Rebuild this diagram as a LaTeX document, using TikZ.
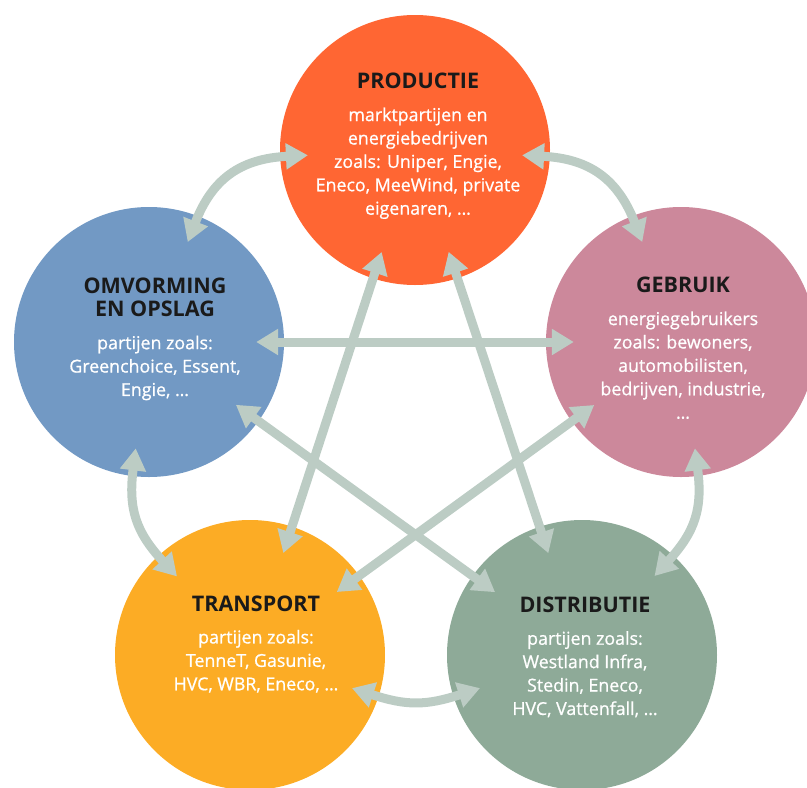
\documentclass[tikz,border=0pt]{standalone}
\usepackage{fontspec}
\setmainfont{Open Sans}
\newfontfamily\halfvet[FakeBold=0.8]{Open Sans}
\usetikzlibrary{arrows.meta}

\definecolor{prodcol}{HTML}{FF6633}
\definecolor{gebrcol}{HTML}{CC889B}
\definecolor{omvcol}{HTML}{7299C4}
\definecolor{transcol}{HTML}{FCAC25}
\definecolor{distcol}{HTML}{8EAA98}
\definecolor{pijlcol}{HTML}{BCCCC4}
\definecolor{kopcol}{HTML}{1A1A1A}

\newcommand{\kop}[1]{{\color{kopcol}\fontsize{21.5}{24}\selectfont\rmfamily\bfseries #1}}

\tikzset{
  blok/.style={circle, minimum size=270pt, inner sep=0pt},
  tekst/.style={align=center, text=white, font=\halfvet\fontsize{17.8}{23.4}\selectfont},
  conn/.style={draw=pijlcol, line width=9pt,
    {Triangle[length=22pt,width=25pt]}-{Triangle[length=22pt,width=25pt]},
    shorten <=-28pt, shorten >=-28pt},
}

\begin{document}
\begin{tikzpicture}[x=1pt, y=-1pt]
    \useasboundingbox (0,0) rectangle (807,788);

    \node[blok, fill=prodcol]  (prod)  at (415, 150) {};
    \node[blok, fill=gebrcol]  (gebr)  at (681, 342) {};
    \node[blok, fill=omvcol]   (omv)   at (149, 342) {};
    \node[blok, fill=transcol] (trans) at (250, 655) {};
    \node[blok, fill=distcol]  (dist)  at (582, 655) {};

    \path
    (omv)   edge[conn, bend left=33]  (prod)
    (prod)  edge[conn, bend left=33]  (gebr)
    (omv)   edge[conn, bend right=25] (trans)
    (gebr)  edge[conn, bend left=25]  (dist)
    (trans) edge[conn, bend right=18] (dist)
    (omv)   edge[conn] (gebr)
    (prod)  edge[conn] (trans)
    (prod)  edge[conn] (dist)
    (omv)   edge[conn] (dist)
    (gebr)  edge[conn] (trans);

    \node[tekst] (prodtxt)  at (418, 146) {\kop{PRODUCTIE}\\[9pt]marktpartijen en\\energiebedrijven\\zoals: Uniper, Engie,\\Eneco, MeeWind, private\\eigenaren, \dots};
    \node[tekst] (gebrtxt)  at (683, 348) {\kop{GEBRUIK}\\[9pt]energiegebruikers\\zoals: bewoners,\\automobilisten,\\bedrijven, industrie,\\\dots};
    \node[tekst] (omvtxt)   at (155, 339) {\kop{OMVORMING}\\\kop{EN OPSLAG}\\[9pt]partijen zoals:\\Greenchoice, Essent,\\Engie, \dots};
    \node[tekst] (transtxt) at (256, 644) {\kop{TRANSPORT}\\[9pt]partijen zoals:\\TenneT, Gasunie,\\HVC, WBR, Eneco, \dots};
    \node[tekst] (disttxt)  at (585, 657) {\kop{DISTRIBUTIE}\\[9pt]partijen zoals:\\Westland Infra,\\Stedin, Eneco,\\HVC, Vattenfall, \dots};
\end{tikzpicture}
\end{document}
